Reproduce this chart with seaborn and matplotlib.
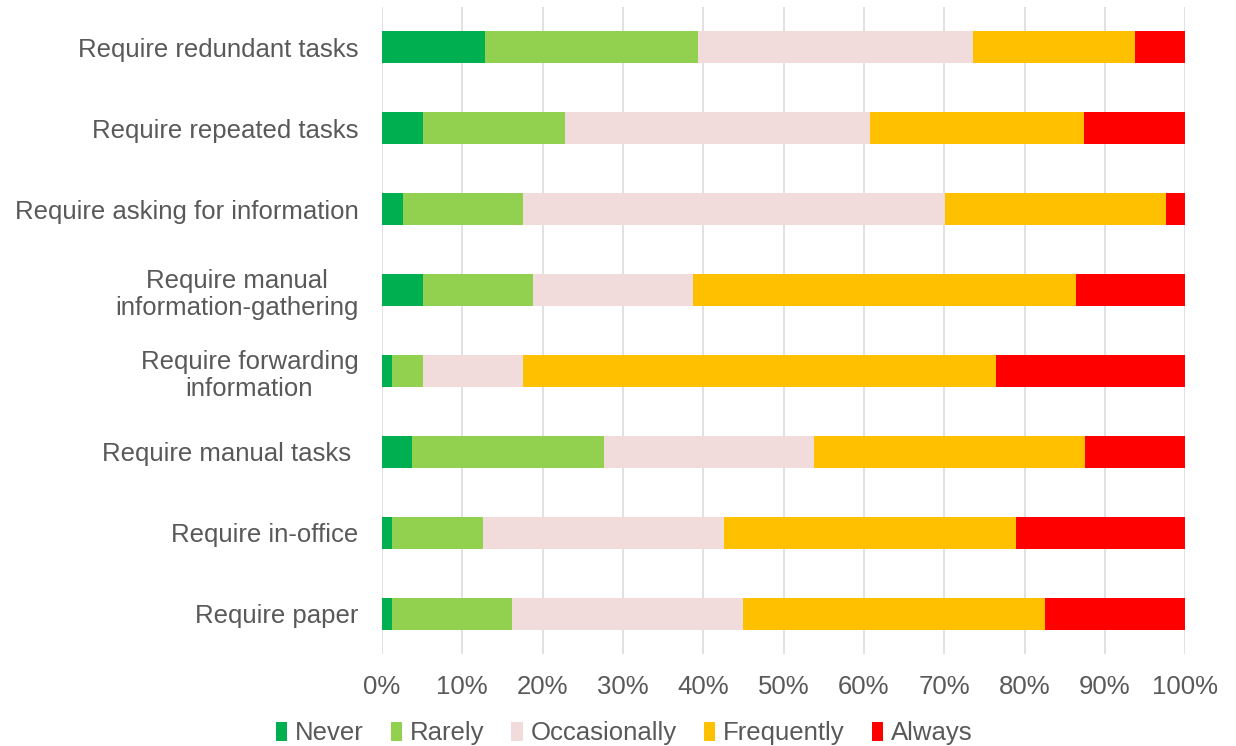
import numpy as np
import pandas as pd
import matplotlib
matplotlib.use("Agg")
import matplotlib.pyplot as plt
import seaborn as sns
from matplotlib.patches import Patch

categories = [
    "Require redundant tasks",
    "Require repeated tasks",
    "Require asking for information",
    "Require manual\ninformation-gathering",
    "Require forwarding\ninformation",
    "Require manual tasks ",
    "Require in-office",
    "Require paper",
]
levels = ["Never", "Rarely", "Occasionally", "Frequently", "Always"]

# Share of respondents (%) per answer
never = [12.8, 5.1, 2.6, 5.1, 1.3, 3.8, 1.3, 1.3]
rarely = [26.5, 17.7, 15.0, 13.7, 3.8, 23.8, 11.3, 14.9]
occasionally = [34.3, 37.9, 52.5, 19.9, 12.5, 26.2, 30.0, 28.8]
frequently = [20.1, 26.7, 27.5, 47.7, 58.8, 33.7, 36.3, 37.5]
always = [6.3, 12.6, 2.4, 13.6, 23.6, 12.5, 21.1, 17.5]

colors = ["#00B050", "#92D050", "#F2DCDB", "#FFC000", "#FF0000"]

df = pd.DataFrame({
    "category": categories,
    "Never": never,
    "Rarely": rarely,
    "Occasionally": occasionally,
    "Frequently": frequently,
    "Always": always,
})
cum = df[levels].cumsum(axis=1)

sns.set_style("white")
plt.rcParams["font.family"] = ["Liberation Sans", "DejaVu Sans"]
text_color = "#595959"
fs = 18.5

fig = plt.figure(figsize=(12.36, 7.46), dpi=100)
ax = fig.add_axes([0.309, 0.1227, 0.65, 0.8685])

# Stack by drawing cumulative totals from the outermost segment inwards
for level, color in reversed(list(zip(levels, colors))):
    sns.barplot(
        x=cum[level] / 100.0, y=df["category"], orient="h",
        color=color, width=0.4, linewidth=0, saturation=1, ax=ax,
    )

ax.set_xlim(0, 1)
ax.set_ylim(len(categories) - 0.5, -0.5)
ax.set_xticks(np.linspace(0, 1, 11))
ax.set_xticklabels([f"{int(round(v * 100))}%" for v in np.linspace(0, 1, 11)])
ax.xaxis.grid(True, color="#D9D9D9", linewidth=1.1)
ax.set_axisbelow(True)
ax.set_xlabel("")
ax.set_ylabel("")
for s in ax.spines.values():
    s.set_visible(False)
ax.tick_params(axis="x", length=0, pad=15, labelsize=fs, labelcolor=text_color)
ax.tick_params(axis="y", length=0, pad=17, labelsize=fs, labelcolor=text_color)
for lab in ax.get_yticklabels():
    lab.set_multialignment("center")

handles = [Patch(facecolor=c, edgecolor="none") for c in colors]
fig.legend(
    handles, levels, loc="center", bbox_to_anchor=(0.505, 0.017),
    ncol=5, frameon=False, fontsize=fs, labelcolor=text_color,
    handlelength=0.45, handleheight=0.8, handletextpad=0.3, columnspacing=1.05,
)

fig.savefig("out.png", dpi=100, facecolor="white")
